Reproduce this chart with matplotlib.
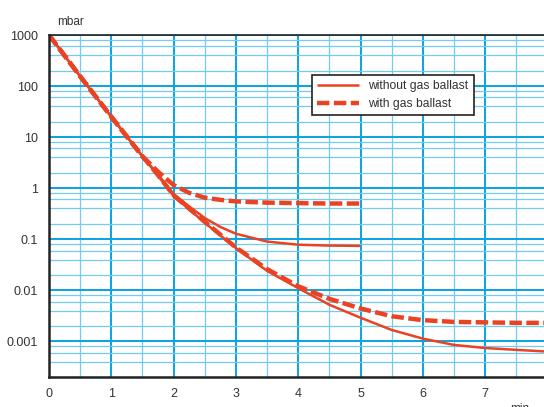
import numpy as np
import matplotlib.pyplot as plt
from matplotlib.ticker import FixedLocator, NullFormatter

plt.rcParams['font.family'] = ['Liberation Sans', 'DejaVu Sans']

# pump-down curves (time in min, pressure in mbar)
x_short = [0, 0.5, 1, 1.5, 1.75, 2, 2.25, 2.5, 2.75, 3, 3.5, 4, 4.5, 5]
without_short = [1000, 155, 25, 4.2, 1.85, 0.77, 0.44, 0.26, 0.174, 0.128, 0.09, 0.078, 0.075, 0.074]
with_short = [1000, 155, 25, 4.2, 2.1, 1.15, 0.81, 0.65, 0.59, 0.55, 0.52, 0.51, 0.50, 0.50]

x_long = [0, 0.5, 1, 1.5, 1.75, 2, 2.5, 3, 3.5, 4, 4.5, 5, 5.5, 6, 6.5, 7, 7.5, 8, 8.5]
without_long = [1000, 155, 25, 4.2, 1.75, 0.70, 0.21, 0.067, 0.024, 0.011, 0.0052, 0.0029,
                0.00167, 0.00113, 0.00085, 0.00074, 0.00068, 0.00063, 0.0006]
with_long = [1000, 155, 25, 4.2, 1.8, 0.72, 0.22, 0.069, 0.026, 0.012, 0.0068, 0.0044,
             0.0031, 0.0026, 0.0024, 0.00235, 0.0023, 0.0023, 0.0023]

x_ticks = [0, 1, 2, 3, 4, 5, 6, 7, 8]
y_ticks = [0.001, 0.01, 0.1, 1, 10, 100, 1000]
y_labels = ['0.001', '0.01', '0.1', '1', '10', '100', '1000']

red = '#ea4324'
blue = '#08a4e2'
light = '#72cbf1'

fig = plt.figure(figsize=(5.44, 4.07), dpi=100)
ax = fig.add_axes([49 / 544, 30 / 407, 8.5 * 62.3 / 544, 342 / 407])

ax.set_yscale('log')
ax.set_xlim(0, 8.5)
ax.set_ylim(0.0002, 1000)

ax.xaxis.set_major_locator(FixedLocator(x_ticks))
ax.xaxis.set_minor_locator(FixedLocator(np.arange(0.5, 8.5, 1.0)))
ax.yaxis.set_major_locator(FixedLocator(y_ticks))
minor_y = [m * 10.0 ** e for e in range(-4, 3) for m in (2, 4, 6, 8)]
ax.yaxis.set_minor_locator(FixedLocator(minor_y))
ax.yaxis.set_minor_formatter(NullFormatter())
ax.set_yticklabels(y_labels)
ax.set_xticklabels([str(t) for t in x_ticks])

ax.grid(which='major', color=blue, lw=1.4)
ax.grid(which='minor', color=light, lw=0.9)
ax.set_axisbelow(True)
ax.tick_params(which='both', length=0, labelsize=9, labelcolor='#333333', pad=8)

for s in ['left', 'bottom', 'top']:
    ax.spines[s].set_color('#222222')
    ax.spines[s].set_linewidth(1.8)
ax.spines['top'].set_linewidth(1.2)
ax.spines['right'].set_visible(False)

ax.plot(x_short, without_short, color=red, lw=1.8, solid_capstyle='butt', label='without gas ballast')
ax.plot(x_short, with_short, color=red, lw=3.2, dashes=(2.8, 1.0), label='with gas ballast')
ax.plot(x_long, without_long, color=red, lw=1.8, solid_capstyle='butt')
ax.plot(x_long, with_long, color=red, lw=3.2, dashes=(2.8, 1.0))

leg = ax.legend(loc='upper left', bbox_to_anchor=(312 / 544, 1 - 75 / 407),
                bbox_transform=fig.transFigure, fontsize=8.7, frameon=True, fancybox=False,
                framealpha=1, edgecolor='#222222', handlelength=3.4, borderpad=0.45,
                labelspacing=0.45, handletextpad=0.8, borderaxespad=0)
leg.get_frame().set_linewidth(1.2)
for t in leg.get_texts():
    t.set_color('#333333')

fig.text(57 / 544, 1 - 22 / 407, 'mbar', fontsize=8.5, color='#333333', va='center')
fig.text(510 / 544, 1 - 409 / 407, 'min', fontsize=8.5, color='#333333', va='center')

fig.savefig('out.png', dpi=100)
